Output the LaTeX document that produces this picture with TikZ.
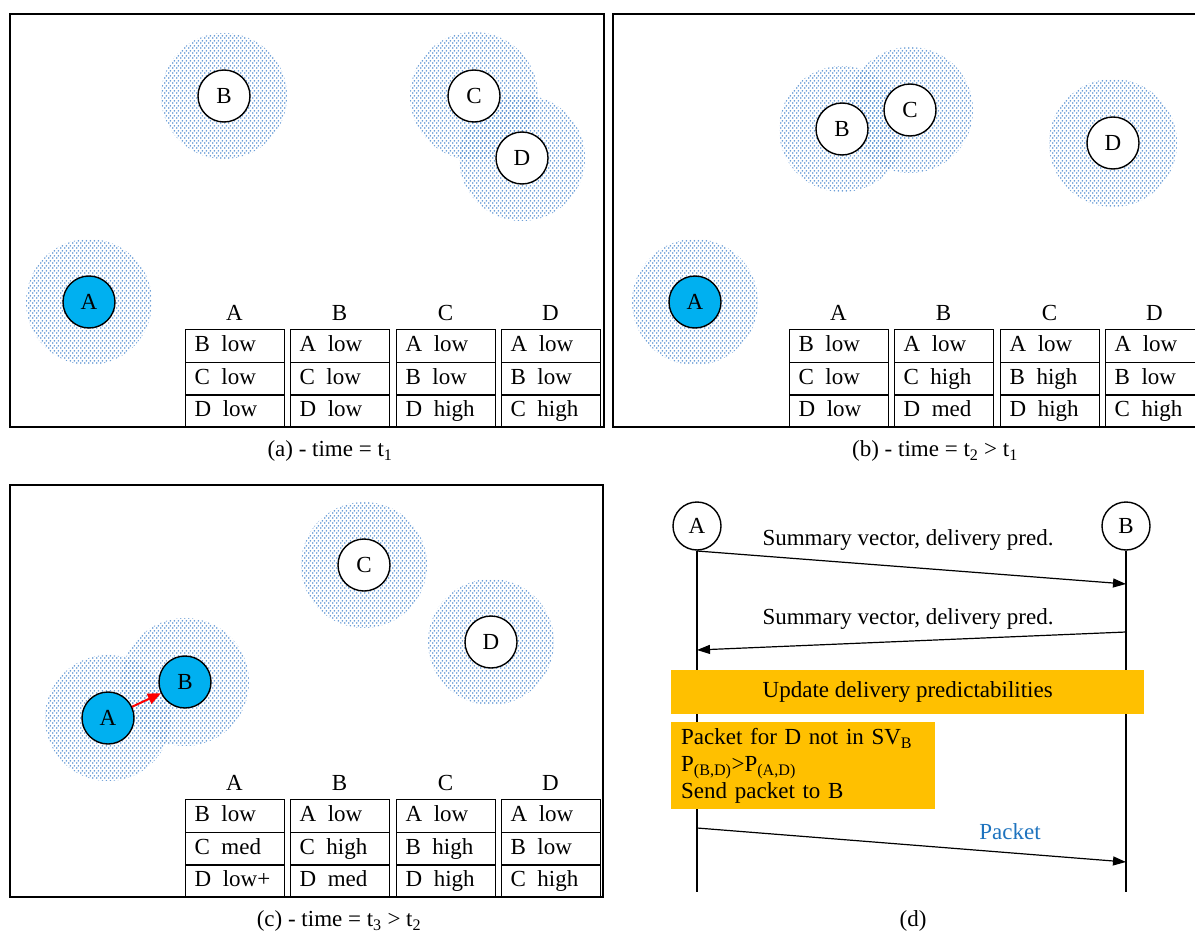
\documentclass[tikz,border=0pt]{standalone}
\usepackage{fontspec}
\setmainfont{Liberation Serif}
\usetikzlibrary{arrows.meta,patterns.meta}
\definecolor{nodeblue}{HTML}{00B0F0}
\definecolor{dotblue}{RGB}{95,150,212}
\definecolor{boxorange}{HTML}{FFC000}
\definecolor{pktblue}{RGB}{30,115,190}
\tikzdeclarepattern{
  name=rangedots, type=uncolored,
  bounding box={(0pt,0pt) and (4pt,5pt)},
  tile size={(4pt,5pt)},
  code={\fill (1pt,1.25pt) circle (1.05pt); \fill (3pt,3.75pt) circle (1.05pt);}
}
\tikzset{
  panel/.style={draw, line width=1.2pt},
  rangezone/.style={pattern=rangedots, pattern color=dotblue},
  host/.style={circle, draw, line width=1.4pt, fill=white, minimum size=52pt, inner sep=0pt},
  hostA/.style={host, fill=nodeblue},
  cell/.style={draw, line width=1.3pt, minimum width=99pt, minimum height=32.6pt, anchor=north west,
    inner xsep=9pt, inner ysep=0pt, text width=81pt, align=left, text height=16pt, text depth=5pt},
  hdr/.style={inner sep=0pt},
  captext/.style={inner sep=0pt},
  msg/.style={line width=1.2pt, -{Triangle[length=13pt,width=9pt]}},
  life/.style={line width=1.2pt},
  obox/.style={fill=boxorange, inner sep=0pt},
  redarrow/.style={draw=red, line width=2pt, -{Triangle[length=13pt,width=11pt]}}
}
% #1 prefix, #2 x-left, #3 y-top, #4 header, #5-#7 rows
\newcommand{\coltab}[7]{%
  \node[hdr] (#1h) at ({#2+49.5},{#3-16}) {#4};
  \node[cell] (#1r1) at (#2,#3) {#5};
  \node[cell] (#1r2) at (#2,{#3+32.6}) {#6};
  \node[cell] (#1r3) at (#2,{#3+65.2}) {#7};
}
\begin{document}
\begin{tikzpicture}[x=1pt,y=-1pt,font=\fontsize{23}{27.6}\selectfont]
\useasboundingbox (0,0) rectangle (1195,934);

% ---------- panel (a)
\fill[rangezone] (224,96) circle (63pt);
\fill[rangezone] (474,96) circle (64pt);
\fill[rangezone] (522,158) circle (63pt);
\fill[rangezone] (89,302) circle (63pt);
\draw[panel] (10,14) rectangle (604,427);
\node[host] (aB) at (224,96) {B};
\node[host] (aC) at (474,96) {C};
\node[host] (aD) at (522,158) {D};
\node[hostA] (aA) at (89,302) {A};
\coltab{aTA}{185}{329}{A}{B\enspace low}{C\enspace low}{D\enspace low}
\coltab{aTB}{290}{329}{B}{A\enspace low}{C\enspace low}{D\enspace low}
\coltab{aTC}{396}{329}{C}{A\enspace low}{B\enspace low}{D\enspace high}
\coltab{aTD}{501}{329}{D}{A\enspace low}{B\enspace low}{C\enspace high}
\node[captext] (capa) at (330,451) {(a) - time = t\textsubscript{1}};

% ---------- panel (b)
\fill[rangezone] (842,129) circle (63pt);
\fill[rangezone] (910,110) circle (63pt);
\fill[rangezone] (1113,143) circle (64pt);
\fill[rangezone] (695,302) circle (63pt);
\draw[panel] (613,14) rectangle (1200,427);
\node[host] (bB) at (842,129) {B};
\node[host] (bC) at (910,110) {C};
\node[host] (bD) at (1113,143) {D};
\node[hostA] (bA) at (695,302) {A};
\coltab{bTA}{789}{329}{A}{B\enspace low}{C\enspace low}{D\enspace low}
\coltab{bTB}{894}{329}{B}{A\enspace low}{C\enspace high}{D\enspace med}
\coltab{bTC}{1000}{329}{C}{A\enspace low}{B\enspace high}{D\enspace high}
\coltab{bTD}{1105}{329}{D}{A\enspace low}{B\enspace low}{C\enspace high}
\node[captext] (capb) at (935,451) {(b) - time = t\textsubscript{2} > t\textsubscript{1}};

% ---------- panel (c)
\fill[rangezone] (364,565) circle (63pt);
\fill[rangezone] (491,642) circle (63pt);
\fill[rangezone] (108,718) circle (63pt);
\fill[rangezone] (185,682) circle (64pt);
\draw[panel] (10,485) rectangle (603,897);
\node[host] (cC) at (364,565) {C};
\node[host] (cD) at (491,642) {D};
\node[hostA] (cA) at (108,718) {A};
\node[hostA] (cB) at (185,682) {B};
\draw[redarrow] (cA) -- (cB);
\coltab{cTA}{185}{799}{A}{B\enspace low}{C\enspace med}{D\enspace low+}
\coltab{cTB}{290}{799}{B}{A\enspace low}{C\enspace high}{D\enspace med}
\coltab{cTC}{396}{799}{C}{A\enspace low}{B\enspace high}{D\enspace high}
\coltab{cTD}{501}{799}{D}{A\enspace low}{B\enspace low}{C\enspace high}
\node[captext] (capc) at (339,921) {(c) - time = t\textsubscript{3} > t\textsubscript{2}};

% ---------- panel (d)
\node[host, minimum size=48pt] (dA) at (697,526) {A};
\node[host, minimum size=48pt] (dB) at (1126,526) {B};
\coordinate (dAend) at (697,892);
\coordinate (dBend) at (1126,892);
\draw[life] (dA.south) -- (dAend);
\draw[life] (dB.south) -- (dBend);
\coordinate (dA1) at (697,551); \coordinate (dB1) at (1126,584);
\coordinate (dB2) at (1126,632); \coordinate (dA2) at (697,650);
\coordinate (dA3) at (697,828); \coordinate (dB3) at (1126,862);
\draw[msg] (dA1) -- (dB1);
\draw[msg] (dB2) -- (dA2);
\draw[msg] (dA3) -- (dB3);
\node[inner sep=0pt] (m1) at (908,540) {Summary vector, delivery pred.};
\node[inner sep=0pt] (m2) at (908,619) {Summary vector, delivery pred.};
\node[inner sep=0pt, text=pktblue] (m3) at (1010,832) {Packet};
\node[obox, minimum width=473pt, minimum height=44pt, anchor=north west] (upd) at (671,670)
  {Update delivery predictabilities};
\node[obox, minimum width=264pt, minimum height=87pt, anchor=north west, inner xsep=10pt,
  text width=244pt, align=left, font=\fontsize{23}{27}\selectfont] (dec) at (671,722)
  {Packet for D not in SV\textsubscript{B}\\
   P\textsubscript{(B,D)}>P\textsubscript{(A,D)}\\
   Send packet to B};
\node[captext] (capd) at (913,921) {(d)};
\end{tikzpicture}
\end{document}
